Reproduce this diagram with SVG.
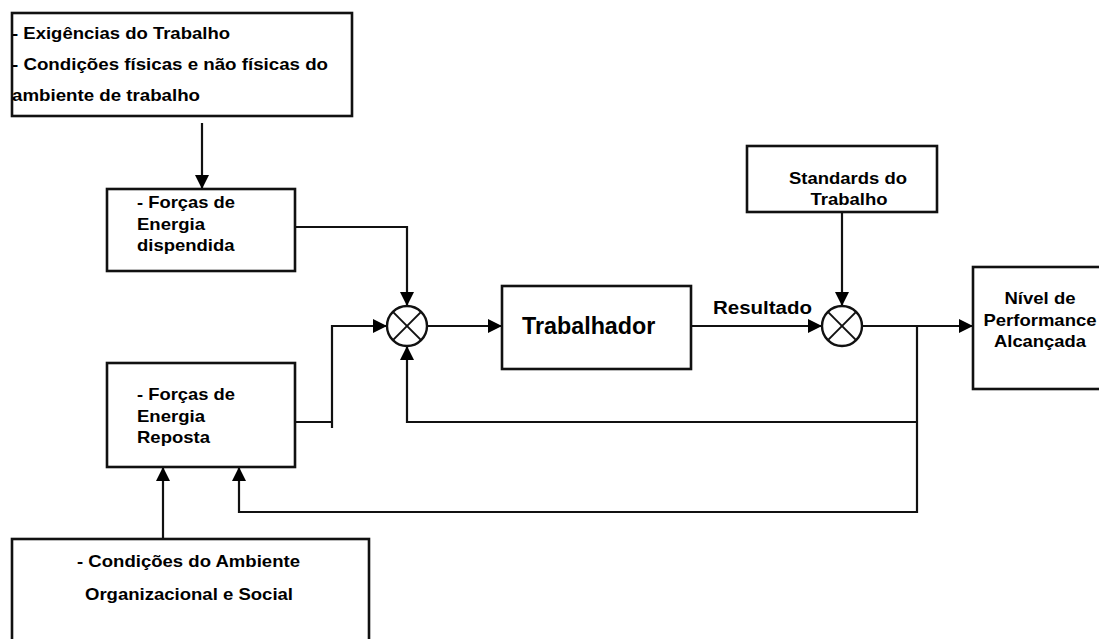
<svg xmlns="http://www.w3.org/2000/svg" width="1099" height="639" viewBox="0 0 1099 639">
  <style>
    .box { fill: #ffffff; stroke: #111111; stroke-width: 2.6; }
    .wire { fill: none; stroke: #111111; stroke-width: 2.2; }
    .sum { fill: #ffffff; stroke: #111111; stroke-width: 2.4; }
    .cross { stroke: #111111; stroke-width: 2; }
    .lbl { font-family: "Liberation Sans", Arial, Helvetica, sans-serif; font-weight: bold; font-size: 16.5px; fill: #000000; }
    .big { font-size: 23.3px; }
    .mid { text-anchor: middle; }
  </style>
  <defs>
    <marker id="arrow" viewBox="0 0 14 14" refX="14" refY="7" markerWidth="14" markerHeight="14" markerUnits="userSpaceOnUse" orient="auto">
      <path d="M0,0 L14,7 L0,14 Z" fill="#000000"/>
    </marker>
  </defs>

  <!-- connectors -->
  <g id="connectors">
    <path class="wire" d="M202,123 V189" marker-end="url(#arrow)"/>
    <path class="wire" d="M295,227 H407 V306" marker-end="url(#arrow)"/>
    <path class="wire" d="M295,422 H332"/>
    <path class="wire" d="M332,428 V326 H387" marker-end="url(#arrow)"/>
    <path class="wire" d="M427,326 H502" marker-end="url(#arrow)"/>
    <path class="wire" d="M691,326 H822" marker-end="url(#arrow)"/>
    <path class="wire" d="M842,206 V306" marker-end="url(#arrow)"/>
    <path class="wire" d="M862,326 H973" marker-end="url(#arrow)"/>
    <path class="wire" d="M917,326 V512 H239 V467" marker-end="url(#arrow)"/>
    <path class="wire" d="M917,422 H407 V346" marker-end="url(#arrow)"/>
    <path class="wire" d="M163,539 V467" marker-end="url(#arrow)"/>
  </g>

  <!-- work demands -->
  <g id="exigencias">
    <rect class="box" x="12" y="13" width="340" height="103"/>
    <text class="lbl" x="12" y="39" textLength="218" lengthAdjust="spacingAndGlyphs">- Exigências do Trabalho</text>
    <text class="lbl" x="12" y="70" textLength="316" lengthAdjust="spacingAndGlyphs">- Condições físicas e não físicas do</text>
    <text class="lbl" x="12" y="101" textLength="188" lengthAdjust="spacingAndGlyphs">ambiente de trabalho</text>
  </g>

  <!-- energy spent -->
  <g id="energia-dispendida">
    <rect class="box" x="107" y="189" width="188" height="82"/>
    <text class="lbl" x="137" y="208" textLength="98" lengthAdjust="spacingAndGlyphs">- Forças de</text>
    <text class="lbl" x="137" y="229.5" textLength="68" lengthAdjust="spacingAndGlyphs">Energia</text>
    <text class="lbl" x="137" y="251" textLength="97.5" lengthAdjust="spacingAndGlyphs">dispendida</text>
  </g>

  <!-- energy restored -->
  <g id="energia-reposta">
    <rect class="box" x="107" y="363" width="188" height="104"/>
    <text class="lbl" x="137" y="400" textLength="98" lengthAdjust="spacingAndGlyphs">- Forças de</text>
    <text class="lbl" x="137" y="421.5" textLength="68" lengthAdjust="spacingAndGlyphs">Energia</text>
    <text class="lbl" x="137" y="443" textLength="73" lengthAdjust="spacingAndGlyphs">Reposta</text>
  </g>

  <!-- organizational and social environment -->
  <g id="ambiente-organizacional">
    <rect class="box" x="12" y="539" width="357" height="130"/>
    <text class="lbl mid" x="188.5" y="567" textLength="223" lengthAdjust="spacingAndGlyphs">- Condições do Ambiente</text>
    <text class="lbl mid" x="189" y="600" textLength="208" lengthAdjust="spacingAndGlyphs">Organizacional e Social</text>
  </g>

  <!-- first summing junction -->
  <g id="juncao-1">
    <circle class="sum" cx="407" cy="326" r="20"/>
    <line class="cross" x1="392.9" y1="311.9" x2="421.1" y2="340.1"/>
    <line class="cross" x1="421.1" y1="311.9" x2="392.9" y2="340.1"/>
  </g>

  <!-- worker -->
  <g id="trabalhador">
    <rect class="box" x="502" y="286" width="189" height="83"/>
    <text class="lbl big" x="522" y="334">Trabalhador</text>
  </g>

  <!-- result label -->
  <g id="resultado">
    <text class="lbl" x="713" y="314" style="font-size:17.5px" textLength="99" lengthAdjust="spacingAndGlyphs">Resultado</text>
  </g>

  <!-- work standards -->
  <g id="standards">
    <rect class="box" x="747" y="146" width="190" height="66"/>
    <text class="lbl mid" x="848" y="184" textLength="118" lengthAdjust="spacingAndGlyphs">Standards do</text>
    <text class="lbl mid" x="849" y="205" textLength="77" lengthAdjust="spacingAndGlyphs">Trabalho</text>
  </g>

  <!-- second comparison junction -->
  <g id="juncao-2">
    <circle class="sum" cx="842" cy="326" r="20"/>
    <line class="cross" x1="827.9" y1="311.9" x2="856.1" y2="340.1"/>
    <line class="cross" x1="856.1" y1="311.9" x2="827.9" y2="340.1"/>
  </g>

  <!-- achieved performance level -->
  <g id="performance">
    <rect class="box" x="973" y="267" width="150" height="122"/>
    <text class="lbl mid" x="1040" y="304" textLength="71" lengthAdjust="spacingAndGlyphs">Nível de</text>
    <text class="lbl mid" x="1040" y="325.5" textLength="113" lengthAdjust="spacingAndGlyphs">Performance</text>
    <text class="lbl mid" x="1040" y="347" textLength="92" lengthAdjust="spacingAndGlyphs">Alcançada</text>
  </g>
</svg>
